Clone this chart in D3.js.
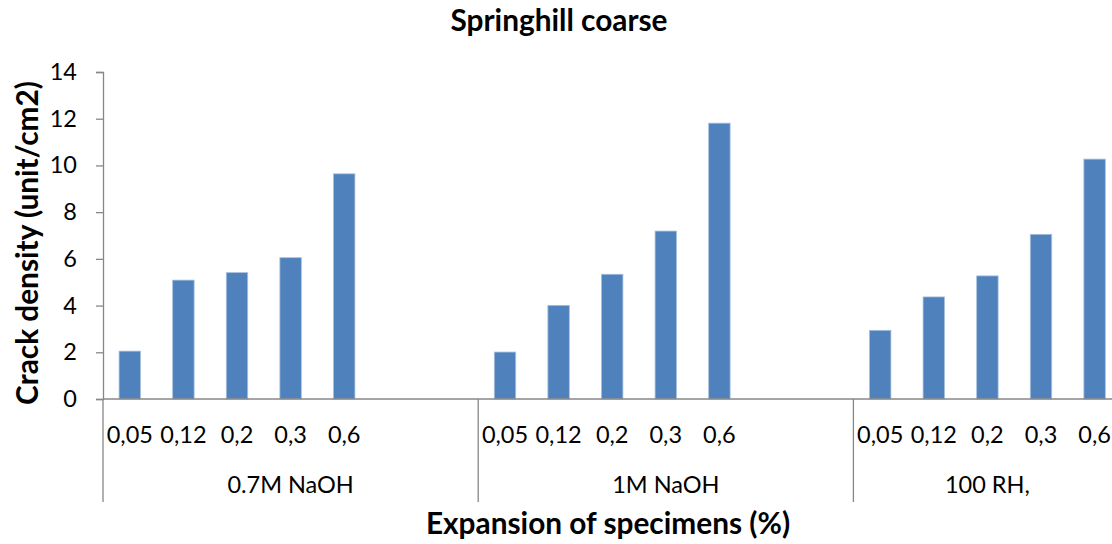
<!DOCTYPE html>
<html>
<head>
<meta charset="utf-8">
<script src="https://cdn.jsdelivr.net/npm/d3@7/dist/d3.min.js"></script>
<style>
  html, body { margin: 0; padding: 0; background: #fff; }
  svg { display: block; }
  text { font-family: Lato, "Open Sans", "Noto Sans", sans-serif; fill: #000; }
</style>
</head>
<body>
<svg id="chart" width="1112" height="544"></svg>
<script>
// ---- data ----
const groups = ["0.7M NaOH", "1M NaOH", "100 RH,"];
const expansions = ["0,05", "0,12", "0,2", "0,3", "0,6"];
const valuesNaOH07 = [2.05, 5.09, 5.41, 6.05, 9.64];
const valuesNaOH1 = [2.01, 4.01, 5.34, 7.19, 11.81];
const valuesRH100 = [2.94, 4.37, 5.27, 7.05, 10.27];
const blankSlots = [2, 2, 0];   // empty category cells after each group
const yTicks = [0, 2, 4, 6, 8, 10, 12, 14];
const title = "Springhill coarse";
const xTitle = "Expansion of specimens (%)";
const yTitle = "Crack density (unit/cm2)";

const seriesValues = [valuesNaOH07, valuesNaOH1, valuesRH100];

// build category slots
const slots = [];
groups.forEach((g, gi) => {
  expansions.forEach((e, ei) => slots.push({ key: g + "|" + e, group: g, label: e, value: seriesValues[gi][ei] }));
  for (let b = 0; b < blankSlots[gi]; b++) slots.push({ key: g + "|blank" + b, group: g, label: "", value: null });
});

const svg = d3.select("#chart");
const mLeft = 103, mTop = 72, mBottom = 399;
const step = 53.6;
const mRight = mLeft + step * slots.length;

const x = d3.scaleBand().domain(slots.map(d => d.key)).range([mLeft, mRight]).paddingInner(0.6).paddingOuter(0.3);
const y = d3.scaleLinear().domain([0, 14]).range([mBottom, mTop]);

const axisColor = "#878787";
const labelSize = 23.5;
const titleSize = 29.8;

// y axis
const yAxis = svg.append("g").attr("transform", `translate(${mLeft},0)`)
  .call(d3.axisLeft(y).tickValues(yTicks).tickSize(7).tickPadding(19));
yAxis.select(".domain").attr("stroke", axisColor).attr("stroke-width", 1.3);
yAxis.selectAll(".tick line").attr("stroke", axisColor).attr("stroke-width", 1.3);
yAxis.selectAll(".tick text").attr("font-size", labelSize).attr("fill", "#000").attr("font-family", null);

// bars
svg.append("g").selectAll("rect").data(slots.filter(d => d.value != null)).join("rect")
  .attr("x", d => x(d.key))
  .attr("width", x.bandwidth())
  .attr("y", d => y(d.value))
  .attr("height", d => y(0) - y(d.value))
  .attr("fill", "#4F81BD")
  .attr("stroke", "#A7C0DE")
  .attr("stroke-width", 0.8);

// x axis line
svg.append("line").attr("x1", mLeft).attr("x2", mRight).attr("y1", y(0)).attr("y2", y(0))
  .attr("stroke", axisColor).attr("stroke-width", 1.3);

// category labels
svg.append("g").selectAll("text").data(slots.filter(d => d.label)).join("text")
  .attr("x", d => x(d.key) + x.bandwidth() / 2)
  .attr("y", 435)
  .attr("dy", "0.35em")
  .attr("text-anchor", "middle")
  .attr("font-size", labelSize)
  .text(d => d.label);

// group separators and labels
const groupInfo = groups.map(g => {
  const ks = slots.filter(d => d.group === g);
  const start = x(ks[0].key) - x.step() * x.paddingOuter();
  const end = start + ks.length * x.step();
  return { g, start, end };
});
svg.append("g").selectAll("line").data(groupInfo).join("line")
  .attr("x1", d => d.start).attr("x2", d => d.start)
  .attr("y1", y(0)).attr("y2", 502)
  .attr("stroke", axisColor).attr("stroke-width", 1.3);

svg.append("g").selectAll("text").data(groupInfo).join("text")
  .attr("x", d => (d.start + d.end) / 2)
  .attr("y", 485)
  .attr("dy", "0.35em")
  .attr("text-anchor", "middle")
  .attr("font-size", labelSize)
  .text(d => d.g);

// titles
svg.append("text").attr("x", 559).attr("y", 31).attr("text-anchor", "middle")
  .attr("font-size", titleSize).attr("font-weight", "bold").text(title);
svg.append("text").attr("x", 608).attr("y", 534).attr("text-anchor", "middle")
  .attr("font-size", titleSize).attr("font-weight", "bold").text(xTitle);
svg.append("text").attr("transform", "translate(38,243) rotate(-90)").attr("text-anchor", "middle")
  .attr("font-size", titleSize).attr("font-weight", "bold").text(yTitle);
</script>
</body>
</html>
